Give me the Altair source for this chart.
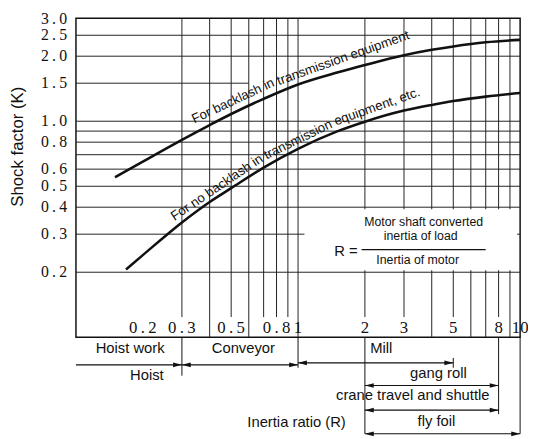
import math
import altair as alt
import pandas as pd

# ---------------- data ----------------
upper_x = [0.15, 0.2, 0.3, 0.4, 0.5, 0.7, 1.0, 1.5, 2, 3, 4, 5, 7, 10]
upper_k = [0.55, 0.65, 0.82, 0.96, 1.08, 1.27, 1.48, 1.68, 1.82, 2.02, 2.14, 2.22, 2.32, 2.38]
lower_x = [0.168, 0.2, 0.3, 0.4, 0.5, 0.7, 1.0, 1.5, 2, 3, 4, 5, 7, 10]
lower_k = [0.206, 0.24, 0.34, 0.423, 0.49, 0.61, 0.745, 0.897, 0.995, 1.12, 1.19, 1.24, 1.30, 1.35]

grid_x = [0.3, 0.4, 0.5, 0.6, 0.7, 0.8, 0.9, 1, 2, 3, 4, 5, 6, 7, 8, 9]
grid_x_to_base = [False, True, False, True, False, False, False, True, False, False, True, False, True, True, False, True]
grid_k = [2.5, 2.0, 1.5, 1.0, 0.9, 0.8, 0.7, 0.6, 0.5, 0.4, 0.3, 0.2]
grid_k_end = [10, 10, 0.6, 10, 10, 10, 10, 10, 10, 10, 10, 10]

y_ticks = [3.0, 2.5, 2.0, 1.5, 1.0, 0.8, 0.6, 0.5, 0.4, 0.3, 0.2]
y_tick_text = ["3.0", "2.5", "2.0", "1.5", "1.0", "0.8", "0.6", "0.5", "0.4", "0.3", "0.2"]
x_ticks = [0.2, 0.3, 0.5, 0.8, 1, 2, 3, 5, 8, 10]
x_tick_text = ["0.2", "0.3", "0.5", "0.8", "1", "2", "3", "5", "8", "10"]

row1_names = ["Hoist work", "Conveyor", "Mill"]
span_names = ["Hoist", "Conveyor", "Mill", "gang roll", "crane travel and shuttle", "fly foil"]
span_lo = [0.1, 0.3, 1, 2, 2, 2]
span_hi = [0.3, 1, 5, 8, 8, 10]
divider_x = [0.3, 1, 2, 8, 10, 5]

upper_label_parts = ["For backlash in", "transmission equipment"]
lower_label_parts = ["For no backlash in", "transmission", "equipment, etc."]
formula_num = ["Motor shaft converted", "inertia of load"]
formula_den = "Inertia of motor"
x_title = "Inertia ratio (R)"
y_title = "Shock factor (K)"

# ---------------- layout (positions / styles) ----------------
W, H = 451, 324
X0, Y0 = 77, 15           # page position of the plot's top-left corner
INK = "#111111"
SANS = "Liberation Sans"
SERIF = "Liberation Serif"
THIN = "\u2009"
label_bottom_k = 0.124
XMIN, XMAX, KMIN, KMAX = 0.1, 10, 0.1, 3


def x_at(px):   # page px -> x value
    return 10 ** (math.log10(XMIN) + (px - X0) / W * math.log10(XMAX / XMIN))


def k_at(py):   # page px -> K value
    return 10 ** (math.log10(KMAX) - (py - Y0) / H * math.log10(KMAX / KMIN))


def spaced(s):
    return s.replace(".", THIN + "." + THIN)


xs = alt.Scale(type="log", domain=[XMIN, XMAX])
ys = alt.Scale(type="log", domain=[KMIN, KMAX])


def X(f="x"):
    return alt.X(f"{f}:Q", scale=xs, axis=None)


def Y(f="k"):
    return alt.Y(f"{f}:Q", scale=ys, axis=None)


# grid
vdf = pd.DataFrame({"x": grid_x,
                    "k0": [KMIN if b else label_bottom_k for b in grid_x_to_base],
                    "k1": [KMAX] * len(grid_x)})
hdf = pd.DataFrame({"k": grid_k, "x0": [XMIN] * len(grid_k), "x1": grid_k_end})
vgrid = alt.Chart(vdf).mark_rule(color="#222", strokeWidth=1).encode(x=X(), y=Y("k0"), y2="k1:Q")
hgrid = alt.Chart(hdf).mark_rule(color="#222", strokeWidth=1).encode(y=Y("k"), x=X("x0"), x2="x1:Q")

# white box behind the formula
box = alt.Chart(pd.DataFrame({"x0": [x_at(309)], "x1": [x_at(525)], "k0": [k_at(271)], "k1": [k_at(209)]})).mark_rect(
    color="white").encode(x=X("x0"), x2="x1:Q", y=Y("k0"), y2="k1:Q")

# curves
cdf = pd.concat([
    pd.DataFrame({"x": upper_x, "k": upper_k, "s": "upper"}),
    pd.DataFrame({"x": lower_x, "k": lower_k, "s": "lower"}),
])
curves = alt.Chart(cdf).mark_line(color=INK, strokeWidth=2.6, interpolate="monotone").encode(
    x=X(), y=Y(), detail="s:N")

# y tick labels and title (left of the plot)
ylab = alt.Chart(pd.DataFrame({
    "k": [min(v, k_at(Y0 + 1)) for v in y_ticks],
    "t": [spaced(s) for s in y_tick_text]})).mark_text(
    font=SERIF, fontSize=16, align="right", baseline="middle", color=INK).encode(
    x=alt.value(-9), y=Y(), text="t:N")
ytitle = alt.Chart(pd.DataFrame({"t": [y_title]})).mark_text(
    font=SANS, fontSize=17, angle=270, align="center", baseline="middle", color=INK).encode(
    x=alt.value(18.5 - X0), y=alt.value(145.5 - Y0), text="t:N")

# curve labels (page px of each chunk's baseline start, and angle)
lab_pos = [(197, 122, 335), (283, 83, 340.5), (177, 221, 326), (270.5, 158.5, 334), (341, 124, 340.5)]
ldf = pd.DataFrame({"x": [x_at(p[0]) for p in lab_pos], "k": [k_at(p[1]) for p in lab_pos],
                    "a": [p[2] for p in lab_pos], "t": upper_label_parts + lower_label_parts})
curve_labels = alt.Chart(ldf).mark_text(
    align="left", baseline="alphabetic", font=SANS, fontSize=13.4, color=INK).encode(
    x=X(), y=Y(), angle=alt.Angle("a:Q", scale=None), text="t:N")

# x tick labels inside the plot
xt = alt.Chart(pd.DataFrame({"x": x_ticks, "t": [spaced(s) for s in x_tick_text]})).mark_text(
    font=SERIF, fontSize=17, baseline="middle", align="center", color=INK).encode(
    x=X(), y=alt.value(330 - Y0), text="t:N")

# formula
r_eq = alt.Chart(pd.DataFrame({"x": [x_at(363)], "t": ["R ="]})).mark_text(
    font=SANS, fontSize=15, align="right", baseline="middle", color=INK).encode(
    x=X(), y=alt.value(251 - Y0), text="t:N")
f_txt = alt.Chart(pd.DataFrame({"x": [x_at(430), x_at(427), x_at(424)],
                                "k": [k_at(222.5), k_at(236.5), k_at(261)],
                                "t": formula_num + [formula_den]})).mark_text(
    font=SANS, fontSize=12.5, align="center", baseline="middle", color=INK).encode(
    x=X(), y=Y(), text="t:N")
f_line = alt.Chart(pd.DataFrame({"x0": [x_at(367)], "x1": [x_at(493)]})).mark_rule(
    color=INK, strokeWidth=1.2).encode(x=X("x0"), x2="x1:Q", y=alt.value(250 - Y0))

# below-plot annotations
div_top = [339, 339, 339, 339, 339, 360]
div_bot = [378, 370, 437, 417, 437, 370]
ddf = pd.DataFrame({"x": divider_x, "k0": [k_at(v) for v in div_top], "k1": [k_at(v) for v in div_bot]})
dividers = alt.Chart(ddf).mark_rule(color=INK, strokeWidth=1).encode(x=X(), y=Y("k0"), y2="k1:Q")

span_py = [367, 367, 365, 388, 413, 437]
sdf = pd.DataFrame({"lo": span_lo, "hi": span_hi, "k": [k_at(v) for v in span_py]})
spans = alt.Chart(sdf).mark_rule(color=INK, strokeWidth=1.2).encode(x=X("lo"), x2="hi:Q", y=Y())

heads = []
for lo, hi, py in zip(span_lo, span_hi, span_py):
    heads.append({"x": hi, "k": k_at(py), "d": "r"})
    if lo > XMIN:
        heads.append({"x": lo, "k": k_at(py), "d": "l"})
LEFT = "M0,0L4.5,-1.2L4.5,1.2Z"
RIGHT = "M0,0L-4.5,-1.2L-4.5,1.2Z"
arrowheads = alt.Chart(pd.DataFrame(heads)).mark_point(filled=True, opacity=1, color=INK, size=16).encode(
    x=X(), y=Y(), shape=alt.Shape("d:N", scale=alt.Scale(domain=["l", "r"], range=[LEFT, RIGHT]), legend=None))

text_px = [(132, 350), (247, 350), (387, 350), (149, 377), (445, 375.5), (419, 397.5), (443, 424.5), (301, 425)]
tdf = pd.DataFrame({
    "t": row1_names + ["Hoist", "gang roll", "crane travel and shuttle", "fly foil", x_title],
    "x": [x_at(p[0]) for p in text_px],
    "k": [k_at(p[1]) for p in text_px],
})
texts = alt.Chart(tdf).mark_text(font=SANS, fontSize=15, align="center", baseline="middle", color=INK).encode(
    x=X(), y=Y(), text="t:N")

chart = alt.layer(
    vgrid, hgrid, box, curves, ylab, ytitle, curve_labels, xt, r_eq, f_txt, f_line,
    dividers, spans, arrowheads, texts
).properties(
    width=W, height=H,
    autosize=alt.AutoSizeParams(type="none"),
    padding={"left": X0 - 8, "top": Y0 - 8, "right": 8, "bottom": 100},
    background="white",
).configure_view(stroke=INK, strokeWidth=1.5)

chart.save("out.html", embed_options={"renderer": "svg", "actions": False})
